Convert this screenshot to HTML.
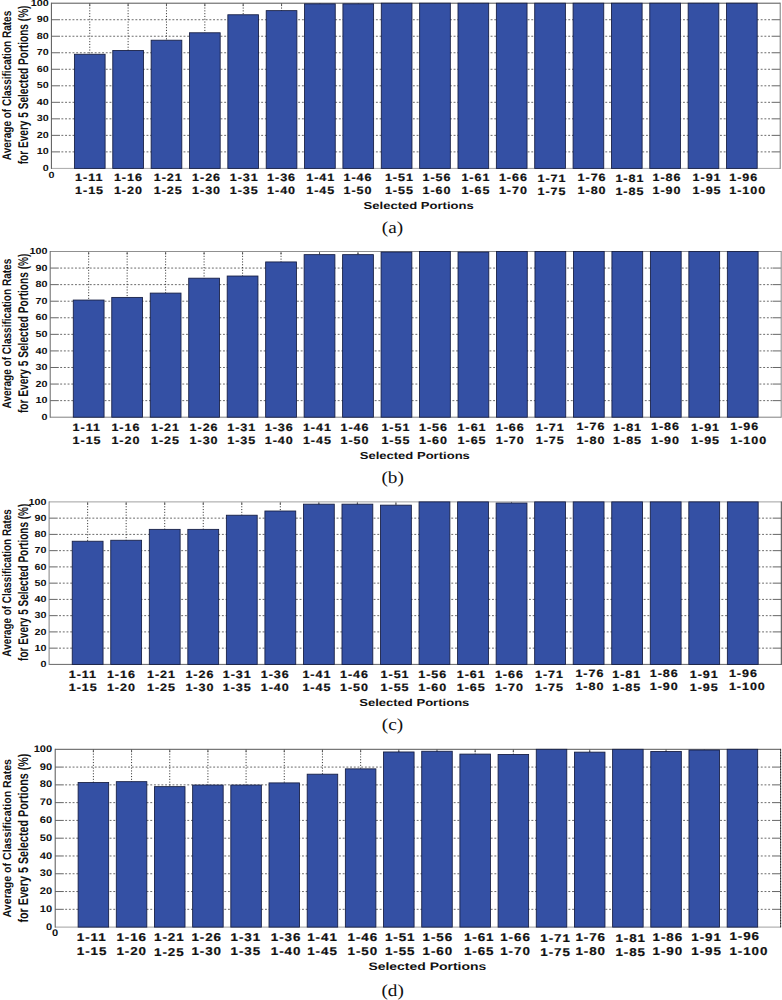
<!DOCTYPE html><html><head><meta charset="utf-8"><title>Figure</title>
<style>html,body{margin:0;padding:0;background:#fff}svg{display:block}text{font-family:"Liberation Sans",sans-serif;font-weight:bold;fill:#111111;text-rendering:geometricPrecision}.cap{font-family:"Liberation Serif",serif;font-weight:normal;font-size:17.0px}.yt{font-size:8.9px}.xt{font-size:10.6px;stroke:#111111;stroke-width:0.2px;letter-spacing:0.8px}.xl{font-size:10.2px}.yl{font-size:10.8px}</style></head><body>
<svg width="782" height="1000" viewBox="0 0 782 1000">
<rect width="782" height="1000" fill="#fff"/>
<g>
<path d="M61.40 151.88H771.20M61.40 135.36H771.20M61.40 118.84H771.20M61.40 102.32H771.20M61.40 85.80H771.20M61.40 69.28H771.20M61.40 52.76H771.20M61.40 36.24H771.20M61.40 19.72H771.20" stroke="#505050" stroke-width="0.85" stroke-dasharray="1.9 1.8" fill="none"/>
<path d="M89.76 4.70V167.40M128.12 4.70V167.40M166.47 4.70V167.40M204.83 4.70V167.40M243.19 4.70V167.40M281.55 4.70V167.40M319.91 4.70V167.40M358.26 4.70V167.40M396.62 4.70V167.40M434.98 4.70V167.40M473.34 4.70V167.40M511.69 4.70V167.40M550.05 4.70V167.40M588.41 4.70V167.40M626.77 4.70V167.40M665.13 4.70V167.40M703.48 4.70V167.40M741.84 4.70V167.40" stroke="#303030" stroke-width="0.95" stroke-dasharray="1.1 1.7" fill="none"/>
<path d="M51.40 151.88h8.6M780.20 151.88h-8.6M51.40 135.36h8.6M780.20 135.36h-8.6M51.40 118.84h8.6M780.20 118.84h-8.6M51.40 102.32h8.6M780.20 102.32h-8.6M51.40 85.80h8.6M780.20 85.80h-8.6M51.40 69.28h8.6M780.20 69.28h-8.6M51.40 52.76h8.6M780.20 52.76h-8.6M51.40 36.24h8.6M780.20 36.24h-8.6M51.40 19.72h8.6M780.20 19.72h-8.6M89.76 3.20v3M128.12 3.20v3M166.47 3.20v3M204.83 3.20v3M243.19 3.20v3M281.55 3.20v3M319.91 3.20v3M358.26 3.20v3M396.62 3.20v3M434.98 3.20v3M473.34 3.20v3M511.69 3.20v3M550.05 3.20v3M588.41 3.20v3M626.77 3.20v3M665.13 3.20v3M703.48 3.20v3M741.84 3.20v3" stroke="#555555" stroke-width="0.9" fill="none"/>
<path d="M51.40 168.40H780.20" stroke="#a8a8a8" stroke-width="1" fill="none"/>
<path d="M51.40 3.20H780.20" stroke="#555" stroke-width="1" fill="none"/>
<path d="M51.40 2.70V168.90" stroke="#555" stroke-width="1" fill="none"/>
<path d="M780.20 2.70V168.90" stroke="#777" stroke-width="1" fill="none"/>
<rect x="74.41" y="54.25" width="30.69" height="114.15" fill="#3450a4" stroke="#141c40" stroke-width="0.85"/>
<rect x="112.77" y="50.45" width="30.69" height="117.95" fill="#3450a4" stroke="#141c40" stroke-width="0.85"/>
<rect x="151.13" y="40.20" width="30.69" height="128.20" fill="#3450a4" stroke="#141c40" stroke-width="0.85"/>
<rect x="189.49" y="32.77" width="30.69" height="135.63" fill="#3450a4" stroke="#141c40" stroke-width="0.85"/>
<rect x="227.85" y="14.76" width="30.69" height="153.64" fill="#3450a4" stroke="#141c40" stroke-width="0.85"/>
<rect x="266.20" y="10.63" width="30.69" height="157.77" fill="#3450a4" stroke="#141c40" stroke-width="0.85"/>
<rect x="304.56" y="3.86" width="30.69" height="164.54" fill="#3450a4" stroke="#141c40" stroke-width="0.85"/>
<rect x="342.92" y="3.86" width="30.69" height="164.54" fill="#3450a4" stroke="#141c40" stroke-width="0.85"/>
<rect x="381.28" y="3.20" width="30.69" height="165.20" fill="#3450a4" stroke="#141c40" stroke-width="0.85"/>
<rect x="419.64" y="3.20" width="30.69" height="165.20" fill="#3450a4" stroke="#141c40" stroke-width="0.85"/>
<rect x="457.99" y="3.20" width="30.69" height="165.20" fill="#3450a4" stroke="#141c40" stroke-width="0.85"/>
<rect x="496.35" y="3.20" width="30.69" height="165.20" fill="#3450a4" stroke="#141c40" stroke-width="0.85"/>
<rect x="534.71" y="3.20" width="30.69" height="165.20" fill="#3450a4" stroke="#141c40" stroke-width="0.85"/>
<rect x="573.07" y="3.20" width="30.69" height="165.20" fill="#3450a4" stroke="#141c40" stroke-width="0.85"/>
<rect x="611.43" y="3.20" width="30.69" height="165.20" fill="#3450a4" stroke="#141c40" stroke-width="0.85"/>
<rect x="649.78" y="3.20" width="30.69" height="165.20" fill="#3450a4" stroke="#141c40" stroke-width="0.85"/>
<rect x="688.14" y="3.20" width="30.69" height="165.20" fill="#3450a4" stroke="#141c40" stroke-width="0.85"/>
<rect x="726.50" y="3.20" width="30.69" height="165.20" fill="#3450a4" stroke="#141c40" stroke-width="0.85"/>
<text class="yt" text-anchor="end" transform="translate(48.70,171.00) scale(1.210,1)">0</text>
<text class="yt" text-anchor="end" transform="translate(48.70,154.48) scale(1.210,1)">10</text>
<text class="yt" text-anchor="end" transform="translate(48.70,137.96) scale(1.210,1)">20</text>
<text class="yt" text-anchor="end" transform="translate(48.70,121.44) scale(1.210,1)">30</text>
<text class="yt" text-anchor="end" transform="translate(48.70,104.92) scale(1.210,1)">40</text>
<text class="yt" text-anchor="end" transform="translate(48.70,88.40) scale(1.210,1)">50</text>
<text class="yt" text-anchor="end" transform="translate(48.70,71.88) scale(1.210,1)">60</text>
<text class="yt" text-anchor="end" transform="translate(48.70,55.36) scale(1.210,1)">70</text>
<text class="yt" text-anchor="end" transform="translate(48.70,38.84) scale(1.210,1)">80</text>
<text class="yt" text-anchor="end" transform="translate(48.70,22.32) scale(1.210,1)">90</text>
<text class="yt" text-anchor="end" transform="translate(48.70,5.80) scale(1.210,1)">100</text>
<text class="yt" text-anchor="middle" transform="translate(51.40,177.70) scale(1.210,1)">0</text>
<text class="xt" text-anchor="start" transform="translate(75.10,181.20) scale(1.186,1)">1-11</text>
<text class="xt" text-anchor="start" transform="translate(75.10,194.30) scale(1.186,1)">1-15</text>
<text class="xt" text-anchor="start" transform="translate(113.90,181.20) scale(1.186,1)">1-16</text>
<text class="xt" text-anchor="start" transform="translate(113.90,194.30) scale(1.186,1)">1-20</text>
<text class="xt" text-anchor="start" transform="translate(153.80,181.20) scale(1.186,1)">1-21</text>
<text class="xt" text-anchor="start" transform="translate(153.80,194.30) scale(1.186,1)">1-25</text>
<text class="xt" text-anchor="start" transform="translate(192.10,181.20) scale(1.186,1)">1-26</text>
<text class="xt" text-anchor="start" transform="translate(192.10,194.30) scale(1.186,1)">1-30</text>
<text class="xt" text-anchor="start" transform="translate(229.70,181.20) scale(1.186,1)">1-31</text>
<text class="xt" text-anchor="start" transform="translate(229.70,194.30) scale(1.186,1)">1-35</text>
<text class="xt" text-anchor="start" transform="translate(267.10,181.20) scale(1.186,1)">1-36</text>
<text class="xt" text-anchor="start" transform="translate(267.10,194.30) scale(1.186,1)">1-40</text>
<text class="xt" text-anchor="start" transform="translate(306.20,181.20) scale(1.186,1)">1-41</text>
<text class="xt" text-anchor="start" transform="translate(306.20,194.30) scale(1.186,1)">1-45</text>
<text class="xt" text-anchor="start" transform="translate(343.50,181.20) scale(1.186,1)">1-46</text>
<text class="xt" text-anchor="start" transform="translate(343.50,194.30) scale(1.186,1)">1-50</text>
<text class="xt" text-anchor="start" transform="translate(384.90,181.20) scale(1.186,1)">1-51</text>
<text class="xt" text-anchor="start" transform="translate(384.90,194.30) scale(1.186,1)">1-55</text>
<text class="xt" text-anchor="start" transform="translate(422.50,181.20) scale(1.186,1)">1-56</text>
<text class="xt" text-anchor="start" transform="translate(422.50,194.30) scale(1.186,1)">1-60</text>
<text class="xt" text-anchor="start" transform="translate(461.40,181.20) scale(1.186,1)">1-61</text>
<text class="xt" text-anchor="start" transform="translate(461.40,194.30) scale(1.186,1)">1-65</text>
<text class="xt" text-anchor="start" transform="translate(498.90,181.20) scale(1.186,1)">1-66</text>
<text class="xt" text-anchor="start" transform="translate(498.90,194.30) scale(1.186,1)">1-70</text>
<text class="xt" text-anchor="start" transform="translate(537.50,181.60) scale(1.186,1)">1-71</text>
<text class="xt" text-anchor="start" transform="translate(537.50,194.70) scale(1.186,1)">1-75</text>
<text class="xt" text-anchor="start" transform="translate(577.60,180.70) scale(1.186,1)">1-76</text>
<text class="xt" text-anchor="start" transform="translate(577.60,193.80) scale(1.186,1)">1-80</text>
<text class="xt" text-anchor="start" transform="translate(615.40,181.80) scale(1.186,1)">1-81</text>
<text class="xt" text-anchor="start" transform="translate(615.40,194.90) scale(1.186,1)">1-85</text>
<text class="xt" text-anchor="start" transform="translate(652.50,180.90) scale(1.186,1)">1-86</text>
<text class="xt" text-anchor="start" transform="translate(652.50,194.00) scale(1.186,1)">1-90</text>
<text class="xt" text-anchor="start" transform="translate(692.60,181.20) scale(1.186,1)">1-91</text>
<text class="xt" text-anchor="start" transform="translate(692.60,194.30) scale(1.186,1)">1-95</text>
<text class="xt" text-anchor="start" transform="translate(729.20,180.80) scale(1.186,1)">1-96</text>
<text class="xt" text-anchor="start" transform="translate(729.20,193.90) scale(1.186,1)">1-100</text>
<text class="xl" text-anchor="start" transform="translate(363.60,209.20) scale(1.280,1)">Selected Portions</text>
<text class="cap" transform="translate(381.80,232.70) scale(1.13,1)">(a)</text>
<text class="yl" text-anchor="middle" transform="translate(11.10,85.50) rotate(-90) scale(0.9280,1.150)">Average of Classification Rates</text>
<text class="yl" text-anchor="middle" transform="translate(27.90,84.90) rotate(-90) scale(0.9350,1.300)">for Every 5 Selected Portions (%)</text>
</g>
<g>
<path d="M60.20 400.63H772.20M60.20 384.06H772.20M60.20 367.49H772.20M60.20 350.92H772.20M60.20 334.35H772.20M60.20 317.78H772.20M60.20 301.21H772.20M60.20 284.64H772.20M60.20 268.07H772.20" stroke="#505050" stroke-width="0.85" stroke-dasharray="1.9 1.8" fill="none"/>
<path d="M88.67 253.00V416.20M127.15 253.00V416.20M165.62 253.00V416.20M204.09 253.00V416.20M242.57 253.00V416.20M281.04 253.00V416.20M319.52 253.00V416.20M357.99 253.00V416.20M396.46 253.00V416.20M434.94 253.00V416.20M473.41 253.00V416.20M511.88 253.00V416.20M550.36 253.00V416.20M588.83 253.00V416.20M627.31 253.00V416.20M665.78 253.00V416.20M704.25 253.00V416.20M742.73 253.00V416.20" stroke="#303030" stroke-width="0.95" stroke-dasharray="1.1 1.7" fill="none"/>
<path d="M50.20 400.63h8.6M781.20 400.63h-8.6M50.20 384.06h8.6M781.20 384.06h-8.6M50.20 367.49h8.6M781.20 367.49h-8.6M50.20 350.92h8.6M781.20 350.92h-8.6M50.20 334.35h8.6M781.20 334.35h-8.6M50.20 317.78h8.6M781.20 317.78h-8.6M50.20 301.21h8.6M781.20 301.21h-8.6M50.20 284.64h8.6M781.20 284.64h-8.6M50.20 268.07h8.6M781.20 268.07h-8.6M88.67 251.50v3M127.15 251.50v3M165.62 251.50v3M204.09 251.50v3M242.57 251.50v3M281.04 251.50v3M319.52 251.50v3M357.99 251.50v3M396.46 251.50v3M434.94 251.50v3M473.41 251.50v3M511.88 251.50v3M550.36 251.50v3M588.83 251.50v3M627.31 251.50v3M665.78 251.50v3M704.25 251.50v3M742.73 251.50v3" stroke="#555555" stroke-width="0.9" fill="none"/>
<path d="M50.20 417.20H781.20" stroke="#808080" stroke-width="1" fill="none"/>
<path d="M50.20 251.50H781.20" stroke="#909090" stroke-width="1" fill="none"/>
<path d="M50.20 251.00V417.70" stroke="#666" stroke-width="1" fill="none"/>
<path d="M781.20 251.00V417.70" stroke="#888" stroke-width="1" fill="none"/>
<rect x="73.28" y="300.05" width="30.78" height="117.15" fill="#3450a4" stroke="#141c40" stroke-width="0.85"/>
<rect x="111.76" y="297.40" width="30.78" height="119.80" fill="#3450a4" stroke="#141c40" stroke-width="0.85"/>
<rect x="150.23" y="293.09" width="30.78" height="124.11" fill="#3450a4" stroke="#141c40" stroke-width="0.85"/>
<rect x="188.71" y="278.18" width="30.78" height="139.02" fill="#3450a4" stroke="#141c40" stroke-width="0.85"/>
<rect x="227.18" y="276.02" width="30.78" height="141.18" fill="#3450a4" stroke="#141c40" stroke-width="0.85"/>
<rect x="265.65" y="261.94" width="30.78" height="155.26" fill="#3450a4" stroke="#141c40" stroke-width="0.85"/>
<rect x="304.13" y="254.65" width="30.78" height="162.55" fill="#3450a4" stroke="#141c40" stroke-width="0.85"/>
<rect x="342.60" y="254.65" width="30.78" height="162.55" fill="#3450a4" stroke="#141c40" stroke-width="0.85"/>
<rect x="381.07" y="252.00" width="30.78" height="165.20" fill="#3450a4" stroke="#141c40" stroke-width="0.85"/>
<rect x="419.55" y="251.50" width="30.78" height="165.70" fill="#3450a4" stroke="#141c40" stroke-width="0.85"/>
<rect x="458.02" y="252.00" width="30.78" height="165.20" fill="#3450a4" stroke="#141c40" stroke-width="0.85"/>
<rect x="496.49" y="251.50" width="30.78" height="165.70" fill="#3450a4" stroke="#141c40" stroke-width="0.85"/>
<rect x="534.97" y="251.50" width="30.78" height="165.70" fill="#3450a4" stroke="#141c40" stroke-width="0.85"/>
<rect x="573.44" y="251.50" width="30.78" height="165.70" fill="#3450a4" stroke="#141c40" stroke-width="0.85"/>
<rect x="611.92" y="251.50" width="30.78" height="165.70" fill="#3450a4" stroke="#141c40" stroke-width="0.85"/>
<rect x="650.39" y="251.50" width="30.78" height="165.70" fill="#3450a4" stroke="#141c40" stroke-width="0.85"/>
<rect x="688.86" y="251.50" width="30.78" height="165.70" fill="#3450a4" stroke="#141c40" stroke-width="0.85"/>
<rect x="727.34" y="251.50" width="30.78" height="165.70" fill="#3450a4" stroke="#141c40" stroke-width="0.85"/>
<text class="yt" text-anchor="end" transform="translate(47.50,419.80) scale(1.210,1)">0</text>
<text class="yt" text-anchor="end" transform="translate(47.50,403.23) scale(1.210,1)">10</text>
<text class="yt" text-anchor="end" transform="translate(47.50,386.66) scale(1.210,1)">20</text>
<text class="yt" text-anchor="end" transform="translate(47.50,370.09) scale(1.210,1)">30</text>
<text class="yt" text-anchor="end" transform="translate(47.50,353.52) scale(1.210,1)">40</text>
<text class="yt" text-anchor="end" transform="translate(47.50,336.95) scale(1.210,1)">50</text>
<text class="yt" text-anchor="end" transform="translate(47.50,320.38) scale(1.210,1)">60</text>
<text class="yt" text-anchor="end" transform="translate(47.50,303.81) scale(1.210,1)">70</text>
<text class="yt" text-anchor="end" transform="translate(47.50,287.24) scale(1.210,1)">80</text>
<text class="yt" text-anchor="end" transform="translate(47.50,270.67) scale(1.210,1)">90</text>
<text class="yt" text-anchor="end" transform="translate(47.50,254.10) scale(1.210,1)">100</text>
<text class="xt" text-anchor="start" transform="translate(72.60,430.70) scale(1.186,1)">1-11</text>
<text class="xt" text-anchor="start" transform="translate(72.60,444.20) scale(1.186,1)">1-15</text>
<text class="xt" text-anchor="start" transform="translate(111.40,430.70) scale(1.186,1)">1-16</text>
<text class="xt" text-anchor="start" transform="translate(111.40,444.20) scale(1.186,1)">1-20</text>
<text class="xt" text-anchor="start" transform="translate(151.00,430.70) scale(1.186,1)">1-21</text>
<text class="xt" text-anchor="start" transform="translate(151.00,444.20) scale(1.186,1)">1-25</text>
<text class="xt" text-anchor="start" transform="translate(189.60,430.70) scale(1.186,1)">1-26</text>
<text class="xt" text-anchor="start" transform="translate(189.60,444.20) scale(1.186,1)">1-30</text>
<text class="xt" text-anchor="start" transform="translate(227.20,430.70) scale(1.186,1)">1-31</text>
<text class="xt" text-anchor="start" transform="translate(227.20,444.20) scale(1.186,1)">1-35</text>
<text class="xt" text-anchor="start" transform="translate(264.80,430.70) scale(1.186,1)">1-36</text>
<text class="xt" text-anchor="start" transform="translate(264.80,444.20) scale(1.186,1)">1-40</text>
<text class="xt" text-anchor="start" transform="translate(302.90,430.70) scale(1.186,1)">1-41</text>
<text class="xt" text-anchor="start" transform="translate(302.90,444.20) scale(1.186,1)">1-45</text>
<text class="xt" text-anchor="start" transform="translate(340.50,430.70) scale(1.186,1)">1-46</text>
<text class="xt" text-anchor="start" transform="translate(340.50,444.20) scale(1.186,1)">1-50</text>
<text class="xt" text-anchor="start" transform="translate(381.40,430.70) scale(1.186,1)">1-51</text>
<text class="xt" text-anchor="start" transform="translate(381.40,444.20) scale(1.186,1)">1-55</text>
<text class="xt" text-anchor="start" transform="translate(419.00,430.70) scale(1.186,1)">1-56</text>
<text class="xt" text-anchor="start" transform="translate(419.00,444.20) scale(1.186,1)">1-60</text>
<text class="xt" text-anchor="start" transform="translate(457.60,430.70) scale(1.186,1)">1-61</text>
<text class="xt" text-anchor="start" transform="translate(457.60,444.20) scale(1.186,1)">1-65</text>
<text class="xt" text-anchor="start" transform="translate(495.70,430.70) scale(1.186,1)">1-66</text>
<text class="xt" text-anchor="start" transform="translate(495.70,444.20) scale(1.186,1)">1-70</text>
<text class="xt" text-anchor="start" transform="translate(535.80,430.70) scale(1.186,1)">1-71</text>
<text class="xt" text-anchor="start" transform="translate(535.80,444.20) scale(1.186,1)">1-75</text>
<text class="xt" text-anchor="start" transform="translate(576.40,430.00) scale(1.186,1)">1-76</text>
<text class="xt" text-anchor="start" transform="translate(576.40,443.50) scale(1.186,1)">1-80</text>
<text class="xt" text-anchor="start" transform="translate(613.10,430.70) scale(1.186,1)">1-81</text>
<text class="xt" text-anchor="start" transform="translate(613.10,444.20) scale(1.186,1)">1-85</text>
<text class="xt" text-anchor="start" transform="translate(651.00,430.20) scale(1.186,1)">1-86</text>
<text class="xt" text-anchor="start" transform="translate(651.00,443.70) scale(1.186,1)">1-90</text>
<text class="xt" text-anchor="start" transform="translate(691.10,430.70) scale(1.186,1)">1-91</text>
<text class="xt" text-anchor="start" transform="translate(691.10,444.20) scale(1.186,1)">1-95</text>
<text class="xt" text-anchor="start" transform="translate(730.20,430.30) scale(1.186,1)">1-96</text>
<text class="xt" text-anchor="start" transform="translate(730.20,443.80) scale(1.186,1)">1-100</text>
<text class="xl" text-anchor="start" transform="translate(359.70,459.20) scale(1.280,1)">Selected Portions</text>
<text class="cap" transform="translate(381.40,483.10) scale(1.13,1)">(b)</text>
<text class="yl" text-anchor="middle" transform="translate(10.90,333.60) rotate(-90) scale(0.9300,1.150)">Average of Classification Rates</text>
<text class="yl" text-anchor="middle" transform="translate(27.90,333.30) rotate(-90) scale(0.9400,1.300)">for Every 5 Selected Portions (%)</text>
</g>
<g>
<path d="M59.10 648.15H772.30M59.10 631.90H772.30M59.10 615.65H772.30M59.10 599.40H772.30M59.10 583.15H772.30M59.10 566.90H772.30M59.10 550.65H772.30M59.10 534.40H772.30M59.10 518.15H772.30" stroke="#505050" stroke-width="0.85" stroke-dasharray="1.9 1.8" fill="none"/>
<path d="M87.64 503.40V663.40M126.17 503.40V663.40M164.71 503.40V663.40M203.25 503.40V663.40M241.78 503.40V663.40M280.32 503.40V663.40M318.86 503.40V663.40M357.39 503.40V663.40M395.93 503.40V663.40M434.47 503.40V663.40M473.01 503.40V663.40M511.54 503.40V663.40M550.08 503.40V663.40M588.62 503.40V663.40M627.15 503.40V663.40M665.69 503.40V663.40M704.23 503.40V663.40M742.76 503.40V663.40" stroke="#303030" stroke-width="0.95" stroke-dasharray="1.1 1.7" fill="none"/>
<path d="M49.10 648.15h8.6M781.30 648.15h-8.6M49.10 631.90h8.6M781.30 631.90h-8.6M49.10 615.65h8.6M781.30 615.65h-8.6M49.10 599.40h8.6M781.30 599.40h-8.6M49.10 583.15h8.6M781.30 583.15h-8.6M49.10 566.90h8.6M781.30 566.90h-8.6M49.10 550.65h8.6M781.30 550.65h-8.6M49.10 534.40h8.6M781.30 534.40h-8.6M49.10 518.15h8.6M781.30 518.15h-8.6M87.64 501.90v3M126.17 501.90v3M164.71 501.90v3M203.25 501.90v3M241.78 501.90v3M280.32 501.90v3M318.86 501.90v3M357.39 501.90v3M395.93 501.90v3M434.47 501.90v3M473.01 501.90v3M511.54 501.90v3M550.08 501.90v3M588.62 501.90v3M627.15 501.90v3M665.69 501.90v3M704.23 501.90v3M742.76 501.90v3" stroke="#555555" stroke-width="0.9" fill="none"/>
<path d="M49.10 664.40H781.30" stroke="#666" stroke-width="1" fill="none"/>
<path d="M49.10 501.90H781.30" stroke="#a0a0a0" stroke-width="1" fill="none"/>
<path d="M49.10 501.40V664.90" stroke="#808080" stroke-width="1" fill="none"/>
<path d="M781.30 501.40V664.90" stroke="#444" stroke-width="1" fill="none"/>
<rect x="72.22" y="541.23" width="30.83" height="123.17" fill="#3450a4" stroke="#141c40" stroke-width="0.85"/>
<rect x="110.76" y="540.25" width="30.83" height="124.15" fill="#3450a4" stroke="#141c40" stroke-width="0.85"/>
<rect x="149.30" y="529.36" width="30.83" height="135.04" fill="#3450a4" stroke="#141c40" stroke-width="0.85"/>
<rect x="187.83" y="529.36" width="30.83" height="135.04" fill="#3450a4" stroke="#141c40" stroke-width="0.85"/>
<rect x="226.37" y="515.22" width="30.83" height="149.18" fill="#3450a4" stroke="#141c40" stroke-width="0.85"/>
<rect x="264.91" y="511.00" width="30.83" height="153.40" fill="#3450a4" stroke="#141c40" stroke-width="0.85"/>
<rect x="303.44" y="504.17" width="30.83" height="160.23" fill="#3450a4" stroke="#141c40" stroke-width="0.85"/>
<rect x="341.98" y="504.17" width="30.83" height="160.23" fill="#3450a4" stroke="#141c40" stroke-width="0.85"/>
<rect x="380.52" y="505.15" width="30.83" height="159.25" fill="#3450a4" stroke="#141c40" stroke-width="0.85"/>
<rect x="419.05" y="501.90" width="30.83" height="162.50" fill="#3450a4" stroke="#141c40" stroke-width="0.85"/>
<rect x="457.59" y="501.90" width="30.83" height="162.50" fill="#3450a4" stroke="#141c40" stroke-width="0.85"/>
<rect x="496.13" y="503.04" width="30.83" height="161.36" fill="#3450a4" stroke="#141c40" stroke-width="0.85"/>
<rect x="534.66" y="501.90" width="30.83" height="162.50" fill="#3450a4" stroke="#141c40" stroke-width="0.85"/>
<rect x="573.20" y="501.90" width="30.83" height="162.50" fill="#3450a4" stroke="#141c40" stroke-width="0.85"/>
<rect x="611.74" y="501.90" width="30.83" height="162.50" fill="#3450a4" stroke="#141c40" stroke-width="0.85"/>
<rect x="650.27" y="501.90" width="30.83" height="162.50" fill="#3450a4" stroke="#141c40" stroke-width="0.85"/>
<rect x="688.81" y="501.90" width="30.83" height="162.50" fill="#3450a4" stroke="#141c40" stroke-width="0.85"/>
<rect x="727.35" y="501.90" width="30.83" height="162.50" fill="#3450a4" stroke="#141c40" stroke-width="0.85"/>
<text class="yt" text-anchor="end" transform="translate(46.40,667.00) scale(1.210,1)">0</text>
<text class="yt" text-anchor="end" transform="translate(46.40,650.75) scale(1.210,1)">10</text>
<text class="yt" text-anchor="end" transform="translate(46.40,634.50) scale(1.210,1)">20</text>
<text class="yt" text-anchor="end" transform="translate(46.40,618.25) scale(1.210,1)">30</text>
<text class="yt" text-anchor="end" transform="translate(46.40,602.00) scale(1.210,1)">40</text>
<text class="yt" text-anchor="end" transform="translate(46.40,585.75) scale(1.210,1)">50</text>
<text class="yt" text-anchor="end" transform="translate(46.40,569.50) scale(1.210,1)">60</text>
<text class="yt" text-anchor="end" transform="translate(46.40,553.25) scale(1.210,1)">70</text>
<text class="yt" text-anchor="end" transform="translate(46.40,537.00) scale(1.210,1)">80</text>
<text class="yt" text-anchor="end" transform="translate(46.40,520.75) scale(1.210,1)">90</text>
<text class="yt" text-anchor="end" transform="translate(46.40,504.50) scale(1.210,1)">100</text>
<text class="xt" text-anchor="start" transform="translate(68.80,677.60) scale(1.186,1)">1-11</text>
<text class="xt" text-anchor="start" transform="translate(68.80,690.70) scale(1.186,1)">1-15</text>
<text class="xt" text-anchor="start" transform="translate(106.90,677.60) scale(1.186,1)">1-16</text>
<text class="xt" text-anchor="start" transform="translate(106.90,690.70) scale(1.186,1)">1-20</text>
<text class="xt" text-anchor="start" transform="translate(147.00,677.60) scale(1.186,1)">1-21</text>
<text class="xt" text-anchor="start" transform="translate(147.00,690.70) scale(1.186,1)">1-25</text>
<text class="xt" text-anchor="start" transform="translate(185.40,677.60) scale(1.186,1)">1-26</text>
<text class="xt" text-anchor="start" transform="translate(185.40,690.70) scale(1.186,1)">1-30</text>
<text class="xt" text-anchor="start" transform="translate(222.70,677.60) scale(1.186,1)">1-31</text>
<text class="xt" text-anchor="start" transform="translate(222.70,690.70) scale(1.186,1)">1-35</text>
<text class="xt" text-anchor="start" transform="translate(260.80,677.60) scale(1.186,1)">1-36</text>
<text class="xt" text-anchor="start" transform="translate(260.80,690.70) scale(1.186,1)">1-40</text>
<text class="xt" text-anchor="start" transform="translate(302.40,677.60) scale(1.186,1)">1-41</text>
<text class="xt" text-anchor="start" transform="translate(302.40,690.70) scale(1.186,1)">1-45</text>
<text class="xt" text-anchor="start" transform="translate(340.00,677.60) scale(1.186,1)">1-46</text>
<text class="xt" text-anchor="start" transform="translate(340.00,690.70) scale(1.186,1)">1-50</text>
<text class="xt" text-anchor="start" transform="translate(380.60,677.60) scale(1.186,1)">1-51</text>
<text class="xt" text-anchor="start" transform="translate(380.60,690.70) scale(1.186,1)">1-55</text>
<text class="xt" text-anchor="start" transform="translate(418.20,677.60) scale(1.186,1)">1-56</text>
<text class="xt" text-anchor="start" transform="translate(418.20,690.70) scale(1.186,1)">1-60</text>
<text class="xt" text-anchor="start" transform="translate(456.80,677.60) scale(1.186,1)">1-61</text>
<text class="xt" text-anchor="start" transform="translate(456.80,690.70) scale(1.186,1)">1-65</text>
<text class="xt" text-anchor="start" transform="translate(494.90,677.60) scale(1.186,1)">1-66</text>
<text class="xt" text-anchor="start" transform="translate(494.90,690.70) scale(1.186,1)">1-70</text>
<text class="xt" text-anchor="start" transform="translate(535.00,677.60) scale(1.186,1)">1-71</text>
<text class="xt" text-anchor="start" transform="translate(535.00,690.70) scale(1.186,1)">1-75</text>
<text class="xt" text-anchor="start" transform="translate(575.40,676.90) scale(1.186,1)">1-76</text>
<text class="xt" text-anchor="start" transform="translate(575.40,690.00) scale(1.186,1)">1-80</text>
<text class="xt" text-anchor="start" transform="translate(612.30,677.60) scale(1.186,1)">1-81</text>
<text class="xt" text-anchor="start" transform="translate(612.30,690.70) scale(1.186,1)">1-85</text>
<text class="xt" text-anchor="start" transform="translate(649.70,677.00) scale(1.186,1)">1-86</text>
<text class="xt" text-anchor="start" transform="translate(649.70,690.10) scale(1.186,1)">1-90</text>
<text class="xt" text-anchor="start" transform="translate(689.80,677.60) scale(1.186,1)">1-91</text>
<text class="xt" text-anchor="start" transform="translate(689.80,690.70) scale(1.186,1)">1-95</text>
<text class="xt" text-anchor="start" transform="translate(728.90,677.30) scale(1.186,1)">1-96</text>
<text class="xt" text-anchor="start" transform="translate(728.90,690.40) scale(1.186,1)">1-100</text>
<text class="xl" text-anchor="start" transform="translate(359.20,705.60) scale(1.280,1)">Selected Portions</text>
<text class="cap" transform="translate(381.80,730.40) scale(1.13,1)">(c)</text>
<text class="yl" text-anchor="middle" transform="translate(10.90,582.90) rotate(-90) scale(0.9160,1.150)">Average of Classification Rates</text>
<text class="yl" text-anchor="middle" transform="translate(27.90,582.30) rotate(-90) scale(0.9260,1.300)">for Every 5 Selected Portions (%)</text>
</g>
<g>
<path d="M65.20 909.32H771.60M65.20 891.54H771.60M65.20 873.76H771.60M65.20 855.98H771.60M65.20 838.20H771.60M65.20 820.42H771.60M65.20 802.64H771.60M65.20 784.86H771.60M65.20 767.08H771.60" stroke="#505050" stroke-width="0.85" stroke-dasharray="1.9 1.8" fill="none"/>
<path d="M93.38 750.80V926.10M131.56 750.80V926.10M169.74 750.80V926.10M207.92 750.80V926.10M246.09 750.80V926.10M284.27 750.80V926.10M322.45 750.80V926.10M360.63 750.80V926.10M398.81 750.80V926.10M436.99 750.80V926.10M475.17 750.80V926.10M513.35 750.80V926.10M551.53 750.80V926.10M589.71 750.80V926.10M627.88 750.80V926.10M666.06 750.80V926.10M704.24 750.80V926.10M742.42 750.80V926.10" stroke="#303030" stroke-width="0.95" stroke-dasharray="1.1 1.7" fill="none"/>
<path d="M55.20 909.32h8.6M780.60 909.32h-8.6M55.20 891.54h8.6M780.60 891.54h-8.6M55.20 873.76h8.6M780.60 873.76h-8.6M55.20 855.98h8.6M780.60 855.98h-8.6M55.20 838.20h8.6M780.60 838.20h-8.6M55.20 820.42h8.6M780.60 820.42h-8.6M55.20 802.64h8.6M780.60 802.64h-8.6M55.20 784.86h8.6M780.60 784.86h-8.6M55.20 767.08h8.6M780.60 767.08h-8.6M93.38 749.30v3M131.56 749.30v3M169.74 749.30v3M207.92 749.30v3M246.09 749.30v3M284.27 749.30v3M322.45 749.30v3M360.63 749.30v3M398.81 749.30v3M436.99 749.30v3M475.17 749.30v3M513.35 749.30v3M551.53 749.30v3M589.71 749.30v3M627.88 749.30v3M666.06 749.30v3M704.24 749.30v3M742.42 749.30v3" stroke="#555555" stroke-width="0.9" fill="none"/>
<path d="M55.20 927.10H780.60" stroke="#a0a0a0" stroke-width="1" fill="none"/>
<path d="M55.20 749.30H780.60" stroke="#555" stroke-width="1" fill="none"/>
<path d="M55.20 748.80V927.60" stroke="#555" stroke-width="1" fill="none"/>
<path d="M780.60 748.80V927.60" stroke="#666" stroke-width="1" fill="none"/>
<path d="M780.60 749.30V927.10" stroke="#222" stroke-width="1" stroke-dasharray="1.1 1.7" fill="none"/>
<rect x="78.11" y="782.55" width="30.54" height="144.55" fill="#3450a4" stroke="#141c40" stroke-width="0.85"/>
<rect x="116.29" y="781.66" width="30.54" height="145.44" fill="#3450a4" stroke="#141c40" stroke-width="0.85"/>
<rect x="154.47" y="786.64" width="30.54" height="140.46" fill="#3450a4" stroke="#141c40" stroke-width="0.85"/>
<rect x="192.64" y="785.04" width="30.54" height="142.06" fill="#3450a4" stroke="#141c40" stroke-width="0.85"/>
<rect x="230.82" y="785.04" width="30.54" height="142.06" fill="#3450a4" stroke="#141c40" stroke-width="0.85"/>
<rect x="269.00" y="782.90" width="30.54" height="144.20" fill="#3450a4" stroke="#141c40" stroke-width="0.85"/>
<rect x="307.18" y="774.19" width="30.54" height="152.91" fill="#3450a4" stroke="#141c40" stroke-width="0.85"/>
<rect x="345.36" y="768.86" width="30.54" height="158.24" fill="#3450a4" stroke="#141c40" stroke-width="0.85"/>
<rect x="383.54" y="751.97" width="30.54" height="175.13" fill="#3450a4" stroke="#141c40" stroke-width="0.85"/>
<rect x="421.72" y="751.26" width="30.54" height="175.84" fill="#3450a4" stroke="#141c40" stroke-width="0.85"/>
<rect x="459.90" y="754.10" width="30.54" height="173.00" fill="#3450a4" stroke="#141c40" stroke-width="0.85"/>
<rect x="498.08" y="754.46" width="30.54" height="172.64" fill="#3450a4" stroke="#141c40" stroke-width="0.85"/>
<rect x="536.25" y="749.30" width="30.54" height="177.80" fill="#3450a4" stroke="#141c40" stroke-width="0.85"/>
<rect x="574.43" y="752.14" width="30.54" height="174.96" fill="#3450a4" stroke="#141c40" stroke-width="0.85"/>
<rect x="612.61" y="749.30" width="30.54" height="177.80" fill="#3450a4" stroke="#141c40" stroke-width="0.85"/>
<rect x="650.79" y="751.43" width="30.54" height="175.67" fill="#3450a4" stroke="#141c40" stroke-width="0.85"/>
<rect x="688.97" y="750.01" width="30.54" height="177.09" fill="#3450a4" stroke="#141c40" stroke-width="0.85"/>
<rect x="727.15" y="749.30" width="30.54" height="177.80" fill="#3450a4" stroke="#141c40" stroke-width="0.85"/>
<text class="yt" text-anchor="end" transform="translate(52.20,929.65) scale(1.170,1)" style="font-size:9.5px">0</text>
<text class="yt" text-anchor="end" transform="translate(52.20,911.87) scale(1.170,1)" style="font-size:9.5px">10</text>
<text class="yt" text-anchor="end" transform="translate(52.20,894.09) scale(1.170,1)" style="font-size:9.5px">20</text>
<text class="yt" text-anchor="end" transform="translate(52.20,876.31) scale(1.170,1)" style="font-size:9.5px">30</text>
<text class="yt" text-anchor="end" transform="translate(52.20,858.53) scale(1.170,1)" style="font-size:9.5px">40</text>
<text class="yt" text-anchor="end" transform="translate(52.20,840.75) scale(1.170,1)" style="font-size:9.5px">50</text>
<text class="yt" text-anchor="end" transform="translate(52.20,822.97) scale(1.170,1)" style="font-size:9.5px">60</text>
<text class="yt" text-anchor="end" transform="translate(52.20,805.19) scale(1.170,1)" style="font-size:9.5px">70</text>
<text class="yt" text-anchor="end" transform="translate(52.20,787.41) scale(1.170,1)" style="font-size:9.5px">80</text>
<text class="yt" text-anchor="end" transform="translate(52.20,769.63) scale(1.170,1)" style="font-size:9.5px">90</text>
<text class="yt" text-anchor="end" transform="translate(52.20,751.85) scale(1.170,1)" style="font-size:9.5px">100</text>
<text class="yt" text-anchor="middle" transform="translate(55.20,936.40) scale(1.170,1)" style="font-size:9.5px">0</text>
<text class="xt" text-anchor="start" transform="translate(76.80,940.90) scale(1.186,1)" style="font-size:11.3px">1-11</text>
<text class="xt" text-anchor="start" transform="translate(76.80,955.20) scale(1.186,1)" style="font-size:11.3px">1-15</text>
<text class="xt" text-anchor="start" transform="translate(116.40,940.50) scale(1.186,1)" style="font-size:11.3px">1-16</text>
<text class="xt" text-anchor="start" transform="translate(116.40,954.80) scale(1.186,1)" style="font-size:11.3px">1-20</text>
<text class="xt" text-anchor="start" transform="translate(154.00,941.30) scale(1.186,1)" style="font-size:11.3px">1-21</text>
<text class="xt" text-anchor="start" transform="translate(154.00,955.60) scale(1.186,1)" style="font-size:11.3px">1-25</text>
<text class="xt" text-anchor="start" transform="translate(191.40,940.90) scale(1.186,1)" style="font-size:11.3px">1-26</text>
<text class="xt" text-anchor="start" transform="translate(191.40,955.20) scale(1.186,1)" style="font-size:11.3px">1-30</text>
<text class="xt" text-anchor="start" transform="translate(230.50,940.90) scale(1.186,1)" style="font-size:11.3px">1-31</text>
<text class="xt" text-anchor="start" transform="translate(230.50,955.20) scale(1.186,1)" style="font-size:11.3px">1-35</text>
<text class="xt" text-anchor="start" transform="translate(270.80,940.90) scale(1.186,1)" style="font-size:11.3px">1-36</text>
<text class="xt" text-anchor="start" transform="translate(270.80,955.20) scale(1.186,1)" style="font-size:11.3px">1-40</text>
<text class="xt" text-anchor="start" transform="translate(307.20,940.90) scale(1.186,1)" style="font-size:11.3px">1-41</text>
<text class="xt" text-anchor="start" transform="translate(307.20,955.20) scale(1.186,1)" style="font-size:11.3px">1-45</text>
<text class="xt" text-anchor="start" transform="translate(347.50,940.90) scale(1.186,1)" style="font-size:11.3px">1-46</text>
<text class="xt" text-anchor="start" transform="translate(347.50,955.20) scale(1.186,1)" style="font-size:11.3px">1-50</text>
<text class="xt" text-anchor="start" transform="translate(384.90,940.90) scale(1.186,1)" style="font-size:11.3px">1-51</text>
<text class="xt" text-anchor="start" transform="translate(384.90,955.20) scale(1.186,1)" style="font-size:11.3px">1-55</text>
<text class="xt" text-anchor="start" transform="translate(422.50,940.90) scale(1.186,1)" style="font-size:11.3px">1-56</text>
<text class="xt" text-anchor="start" transform="translate(422.50,955.20) scale(1.186,1)" style="font-size:11.3px">1-60</text>
<text class="xt" text-anchor="start" transform="translate(463.90,940.90) scale(1.186,1)" style="font-size:11.3px">1-61</text>
<text class="xt" text-anchor="start" transform="translate(463.90,955.20) scale(1.186,1)" style="font-size:11.3px">1-65</text>
<text class="xt" text-anchor="start" transform="translate(500.20,940.90) scale(1.186,1)" style="font-size:11.3px">1-66</text>
<text class="xt" text-anchor="start" transform="translate(500.20,955.20) scale(1.186,1)" style="font-size:11.3px">1-70</text>
<text class="xt" text-anchor="start" transform="translate(540.30,941.60) scale(1.186,1)" style="font-size:11.3px">1-71</text>
<text class="xt" text-anchor="start" transform="translate(540.30,955.90) scale(1.186,1)" style="font-size:11.3px">1-75</text>
<text class="xt" text-anchor="start" transform="translate(575.40,940.90) scale(1.186,1)" style="font-size:11.3px">1-76</text>
<text class="xt" text-anchor="start" transform="translate(575.40,955.20) scale(1.186,1)" style="font-size:11.3px">1-80</text>
<text class="xt" text-anchor="start" transform="translate(615.40,941.50) scale(1.186,1)" style="font-size:11.3px">1-81</text>
<text class="xt" text-anchor="start" transform="translate(615.40,955.80) scale(1.186,1)" style="font-size:11.3px">1-85</text>
<text class="xt" text-anchor="start" transform="translate(652.50,940.90) scale(1.186,1)" style="font-size:11.3px">1-86</text>
<text class="xt" text-anchor="start" transform="translate(652.50,955.20) scale(1.186,1)" style="font-size:11.3px">1-90</text>
<text class="xt" text-anchor="start" transform="translate(691.30,940.90) scale(1.186,1)" style="font-size:11.3px">1-91</text>
<text class="xt" text-anchor="start" transform="translate(691.30,955.20) scale(1.186,1)" style="font-size:11.3px">1-95</text>
<text class="xt" text-anchor="start" transform="translate(729.40,940.40) scale(1.186,1)" style="font-size:11.3px">1-96</text>
<text class="xt" text-anchor="start" transform="translate(729.40,954.70) scale(1.186,1)" style="font-size:11.3px">1-100</text>
<text class="xl" text-anchor="start" transform="translate(368.40,969.90) scale(1.292,1)" style="font-size:10.8px">Selected Portions</text>
<text class="cap" transform="translate(381.40,995.80) scale(1.13,1)">(d)</text>
<text class="yl" text-anchor="middle" transform="translate(11.40,838.20) rotate(-90) scale(0.9840,1.070)">Average of Classification Rates</text>
<text class="yl" text-anchor="middle" transform="translate(28.10,838.10) rotate(-90) scale(0.9950,1.300)">for Every 5 Selected Portions (%)</text>
</g>
</svg></body></html>
